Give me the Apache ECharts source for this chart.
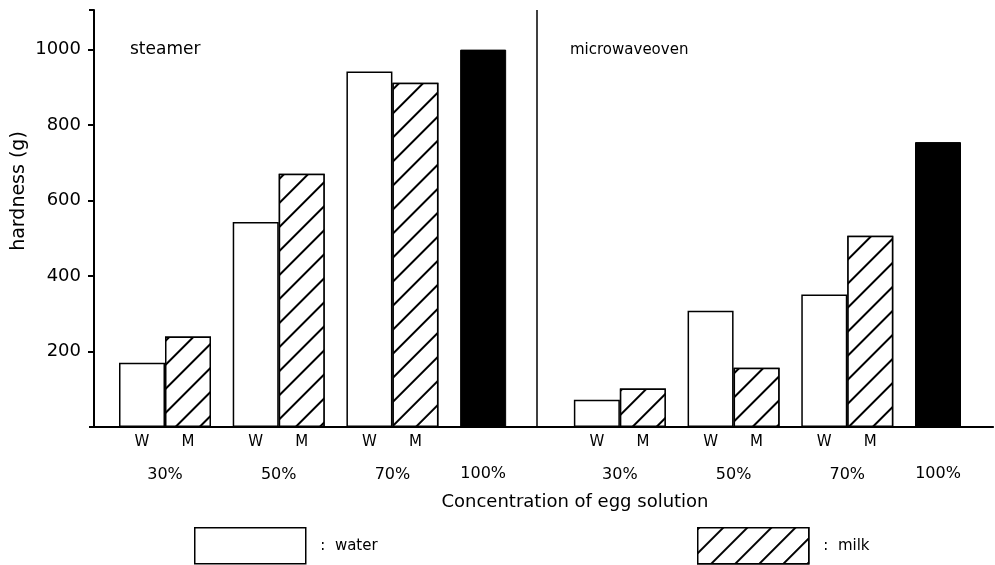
<!DOCTYPE html>
<html>
<head>
<meta charset="utf-8">
<script src="https://cdn.jsdelivr.net/npm/echarts@6/dist/echarts.min.js"></script>
<style>
html,body{margin:0;padding:0;background:#fff;}
#chart{width:995px;height:565px;}
</style>
</head>
<body>
<div id="chart"></div>
<script>
// ---- data ----
var categories = ['30%', '50%', '70%', '100%', '30%', '50%', '70%', '100%'];
var steamerWater = [170, 543, 942];
var steamerMilk = [240, 671, 912];
var steamerControl = 1000;
var microWater = [72, 308, 351];
var microMilk = [102, 157, 507];
var microControl = 755;
var yTicks = [200, 400, 600, 800, 1000];
var panelTitles = ['steamer', 'microwaveoven'];

// ---- build series data ----
var waterData = steamerWater.concat(['-']).concat(microWater).concat(['-']);
var milkData = steamerMilk.concat(['-']).concat(microMilk).concat(['-']);
var controlData = ['-', '-', '-', steamerControl, '-', '-', '-', microControl];

var FONT = 'DejaVu Sans';
var chart = echarts.init(document.getElementById('chart'), null, {renderer: 'canvas'});

var yBase = {min: 0, max: 1105, interval: 200};

var option = {
  backgroundColor: '#fff',
  animation: false,
  grid: [
    {left: 94, right: 2, top: 10, bottom: 138},
    {left: 165, right: 34, top: 10, bottom: 138}
  ],
  xAxis: [
    {gridIndex: 0, type: 'value', min: 0, max: 1, position: 'bottom',
     axisLine: {show: true, lineStyle: {color: '#000', width: 2}},
     axisTick: {show: false}, axisLabel: {show: false}, splitLine: {show: false}},
    {gridIndex: 1, type: 'category', data: categories, boundaryGap: false,
     axisLine: {show: false}, axisTick: {show: false}, splitLine: {show: false},
     axisLabel: {margin: 40, color: '#000', fontFamily: FONT, fontSize: 16,
       formatter: function (v) { return v === '100%' ? '' : v; }}},
    {gridIndex: 0, type: 'value', min: 0, max: 1, position: 'top',
     axisLine: {show: true, lineStyle: {color: '#000', width: 1.5}},
     axisTick: {show: false}, axisLabel: {show: false}, splitLine: {show: false}}
  ],
  yAxis: [
    Object.assign({gridIndex: 0, type: 'value',
     axisLine: {show: true, lineStyle: {color: '#000', width: 2}},
     axisTick: {show: true, length: 6, lineStyle: {color: '#000', width: 2}},
     axisLabel: {show: true, margin: 13, color: '#000', fontFamily: FONT, fontSize: 18,
       showMaxLabel: false, showMinLabel: false,
       formatter: function (v) { return yTicks.indexOf(v) >= 0 ? String(v) : ''; }},
     splitLine: {show: false}}, yBase),
    Object.assign({gridIndex: 0, type: 'value',
     axisLine: {show: false},
     axisTick: {show: true, inside: true, length: 5, lineStyle: {color: '#000', width: 2}},
     axisLabel: {show: false}, splitLine: {show: false}}, yBase),
    Object.assign({gridIndex: 1, type: 'value', show: false}, yBase)
  ],
  legend: [
    {left: 194, top: 527, padding: 0, itemWidth: 111, itemHeight: 36, icon: 'rect', data: ['water'],
     formatter: '  :  water', selectedMode: false,
     textStyle: {fontFamily: FONT, fontSize: 15, color: '#000'},
     itemStyle: {borderColor: '#000', borderWidth: 1.5}},
    {left: 697, top: 527, padding: 0, itemWidth: 111, itemHeight: 36, icon: 'rect', data: ['milk'],
     formatter: '  :  milk', selectedMode: false,
     textStyle: {fontFamily: FONT, fontSize: 15, color: '#000'},
     itemStyle: {borderColor: '#000', borderWidth: 1.5}}
  ],
  series: [
    {name: 'water', type: 'bar', xAxisIndex: 1, yAxisIndex: 2, stack: 'a',
     barWidth: 46, barGap: '0%', data: waterData,
     itemStyle: {color: '#fff', borderColor: '#000', borderWidth: 1.5},
     label: {show: true, position: 'bottom', distance: 8, formatter: 'W',
       color: '#000', fontFamily: FONT, fontSize: 15}},
    {name: 'control', type: 'bar', xAxisIndex: 1, yAxisIndex: 2, stack: 'a',
     barWidth: 46, barGap: '0%', data: controlData,
     itemStyle: {color: '#000', borderColor: '#000', borderWidth: 1},
     label: {show: true, position: 'bottom', distance: 39, formatter: '100%',
       color: '#000', fontFamily: FONT, fontSize: 16}},
    {name: 'milk', type: 'bar', xAxisIndex: 1, yAxisIndex: 2, stack: 'b',
     barWidth: 46, barGap: '0%', data: milkData,
     itemStyle: {color: '#fff', borderColor: '#000', borderWidth: 1.5,
       decal: {symbol: 'rect', symbolSize: 1, color: '#000', backgroundColor: '#fff',
         dashArrayX: [1, 0], dashArrayY: [1.6, 15], rotation: -Math.PI / 4}},
     label: {show: true, position: 'bottom', distance: 8, formatter: 'M',
       color: '#000', fontFamily: FONT, fontSize: 15}}
  ],
  graphic: [
    {type: 'line', shape: {x1: 537, y1: 10, x2: 537, y2: 427},
     style: {stroke: '#000', lineWidth: 1.5}},
    {type: 'text', x: 130, y: 50, style: {text: panelTitles[0], font: '17px "DejaVu Sans"',
      fill: '#000', textVerticalAlign: 'middle'}},
    {type: 'text', x: 570, y: 50, style: {text: panelTitles[1], font: '15px "DejaVu Sans"',
      fill: '#000', textVerticalAlign: 'middle'}},
    {type: 'text', x: 19, y: 191, rotation: Math.PI / 2,
     style: {text: 'hardness (g)', font: '19px "DejaVu Sans"', fill: '#000',
       textAlign: 'center', textVerticalAlign: 'middle'}},
    {type: 'text', x: 575, y: 502,
     style: {text: 'Concentration of egg solution', font: '18px "DejaVu Sans"', fill: '#000',
       textAlign: 'center', textVerticalAlign: 'middle'}}
  ]
};
chart.setOption(option);
</script>
</body>
</html>
